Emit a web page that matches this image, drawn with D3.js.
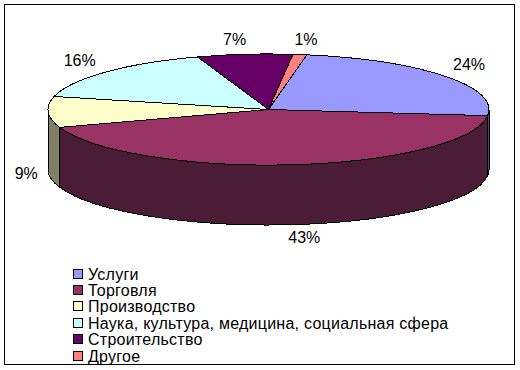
<!DOCTYPE html>
<html>
<head>
<meta charset="utf-8">
<script src="https://cdn.jsdelivr.net/npm/d3@7"></script>
<style>
  html, body { margin: 0; padding: 0; background: #fff; }
  text { font-family: "Liberation Sans", Arial, sans-serif; fill: #000; font-size: 16px; }
  path, rect { shape-rendering: crispEdges; }
</style>
</head>
<body>
<svg id="chart" width="520" height="370"></svg>
<script>
// data
const categories = ["Услуги", "Торговля", "Производство", "Наука, культура, медицина, социальная сфера", "Строительство", "Другое"];
const shares = [24, 43, 9, 16, 7, 1];
const topColors = ["#9999ff", "#993366", "#ffffcc", "#ccffff", "#660066", "#ff8080"];
const sideColors = ["#4d4d80", "#4a1c35", "#808066", "#668080", "#330033", "#804040"];

// layout
const cx = 268.5, cy = 109.5, rx = 220.5, ry = 55.5, depth = 60;
const startDeg = 10;
// label shift from the slice's rim point, same order as categories
const labelShift = [[24, -12], [12, 73], [-22, 61], [-26, -12], [-10, -15], [6, -15]];

const svg = d3.select("#chart");
const rad = d => d * Math.PI / 180;

// white page with the chart frame
svg.append("rect")
    .attr("x", 4.5).attr("y", 4.5)
    .attr("width", 510).attr("height", 360)
    .attr("fill", "#fff").attr("stroke", "#000").attr("stroke-width", 1);

const pie = d3.pie().sort(null).startAngle(rad(startDeg)).endAngle(rad(startDeg + 360));
const slices = pie(shares);

const px = a => cx + rx * Math.sin(a);
const py = a => cy - ry * Math.cos(a);

// wall of one slice, only the part facing the viewer (90..270 deg)
function wall(s) {
    const a0 = Math.max(s.startAngle, rad(90));
    const a1 = Math.min(s.endAngle, rad(270));
    if (a1 <= a0) return null;
    return `M${px(a0)},${py(a0)}`
        + `A${rx},${ry} 0 0 1 ${px(a1)},${py(a1)}`
        + `L${px(a1)},${py(a1) + depth}`
        + `A${rx},${ry} 0 0 0 ${px(a0)},${py(a0) + depth}Z`;
}

svg.append("g").selectAll("path")
    .data(slices.filter(s => wall(s)))
    .enter().append("path")
    .attr("d", wall)
    .attr("fill", d => sideColors[d.index])
    .attr("stroke", "#000")
    .attr("stroke-width", 1);

// top face: unit pie squashed to an ellipse
const arc = d3.arc().innerRadius(0).outerRadius(1);
svg.append("g")
    .attr("transform", `translate(${cx},${cy}) scale(${rx},${ry})`)
    .selectAll("path")
    .data(slices)
    .enter().append("path")
    .attr("d", arc)
    .attr("fill", d => topColors[d.index])
    .attr("stroke", "#000")
    .attr("stroke-width", 1)
    .attr("vector-effect", "non-scaling-stroke");

// percent labels
svg.append("g").selectAll("text")
    .data(slices)
    .enter().append("text")
    .attr("x", d => px((d.startAngle + d.endAngle) / 2) + labelShift[d.index][0])
    .attr("y", d => py((d.startAngle + d.endAngle) / 2) + labelShift[d.index][1])
    .attr("text-anchor", "middle")
    .attr("dominant-baseline", "central")
    .text(d => d.data + "%");

// legend
const legendY = d3.scalePoint().domain(categories).range([274.3, 356]);
const legend = svg.append("g").selectAll("g")
    .data(categories)
    .enter().append("g")
    .attr("transform", d => `translate(73,${legendY(d)})`);

legend.append("rect")
    .attr("x", 0.5).attr("y", -5)
    .attr("width", 9).attr("height", 9)
    .attr("fill", (d, i) => topColors[i])
    .attr("stroke", "#000");

legend.append("text")
    .attr("x", 15)
    .attr("y", 0)
    .attr("dominant-baseline", "central")
    .style("letter-spacing", "0.25px")
    .text(d => d);
</script>
</body>
</html>
